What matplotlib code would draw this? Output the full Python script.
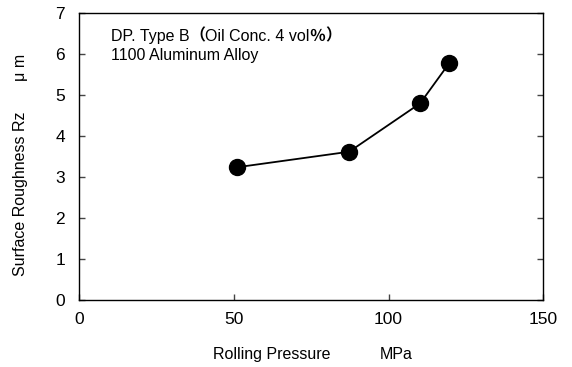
import matplotlib
matplotlib.use("Agg")
import matplotlib.pyplot as plt

plt.rcParams['font.family'] = ['Liberation Sans', 'Noto Sans CJK JP', 'DejaVu Sans']

# rolling pressure (MPa) vs surface roughness Rz (um)
pressure = [51.0, 87.3, 110.2, 119.6]
roughness = [3.24, 3.62, 4.80, 5.78]

x_ticks = [0, 50, 100, 150]
y_ticks = [0, 1, 2, 3, 4, 5, 6, 7]

# title line pieces: (text, bold)
title_parts = [("DP. Type B", False), ("（", True), ("Oil Conc. 4 vol", False),
               ("％", True), ("）", True)]

fig = plt.figure(figsize=(5.72, 3.67), dpi=100)
ax = fig.add_axes([0.1381, 0.1826, 0.8117, 0.7812])

ax.plot(pressure, roughness, color="black", linewidth=1.3,
        marker="o", markersize=11.5, markerfacecolor="black", markeredgecolor="black")

ax.set_xlim(0, 150)
ax.set_ylim(0, 7)
ax.set_xticks(x_ticks)
ax.set_yticks(y_ticks)
ax.tick_params(axis="both", direction="in", length=4, width=1, color="#444444",
               labelsize=12.5)
ax.tick_params(axis="x", top=False, pad=9)
ax.tick_params(axis="y", right=True, pad=10)
for s in ax.spines.values():
    s.set_linewidth(1.0)

# chain the pieces left to right so the brackets can be set bold
prev = ax.text(0.068, 0.905, title_parts[0][0], transform=ax.transAxes,
               fontsize=11.5, va="baseline")
for txt, bold in title_parts[1:]:
    prev = ax.annotate(txt, xy=(1, 0), xycoords=prev, va="bottom", ha="left",
                       fontsize=11.5, fontweight="bold" if bold else "normal")
ax.text(0.068, 0.838, "1100 Aluminum Alloy", transform=ax.transAxes,
        fontsize=11.5, va="baseline")

# axis titles, unit placed apart from the name
ax.text((272 - 79) / 464.3, -0.19, "Rolling Pressure", transform=ax.transAxes,
        fontsize=11.5, ha="center", va="center")
ax.text((396 - 79) / 464.3, -0.19, "MPa", transform=ax.transAxes,
        fontsize=11.5, ha="center", va="center")
ax.text(-0.127, 0.37, "Surface Roughness Rz", transform=ax.transAxes,
        fontsize=11.5, ha="center", va="center", rotation=90)
ax.text(-0.127, 0.81, "μ m", transform=ax.transAxes,
        fontsize=11.5, ha="center", va="center", rotation=90)

fig.savefig("out.png", dpi=100)
